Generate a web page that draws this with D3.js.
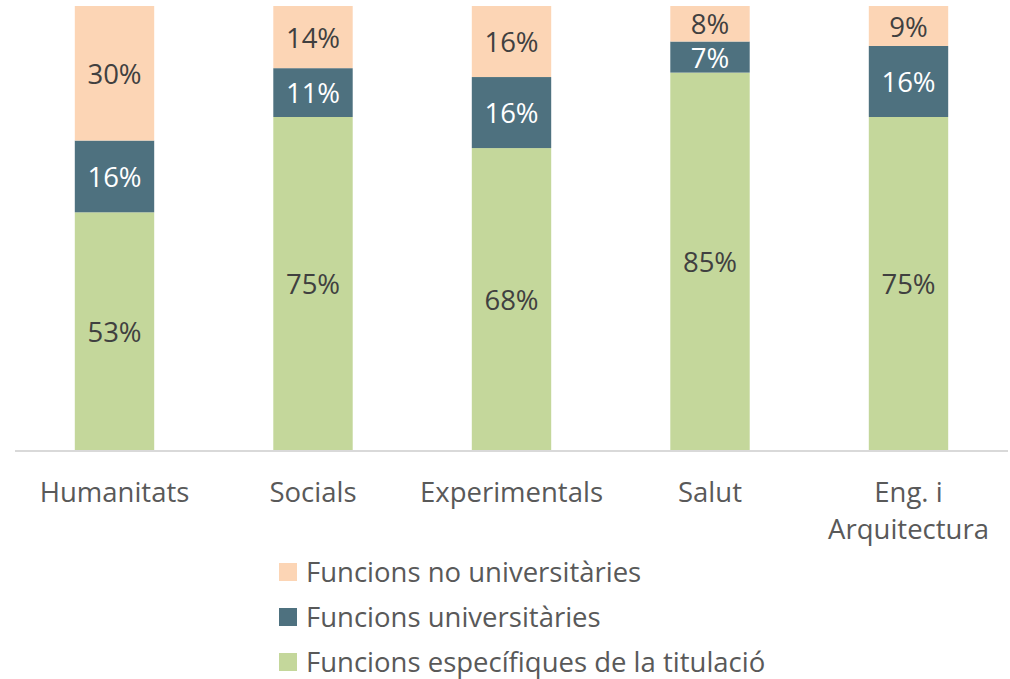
<!DOCTYPE html>
<html><head><meta charset="utf-8">
<script src="https://cdn.jsdelivr.net/npm/d3@7"></script>
<style>body{margin:0;background:#fff}svg{display:block;font-family:"Open Sans","Noto Sans",sans-serif}</style>
</head><body><svg id="c" width="1010" height="679"></svg>
<script>
const categories = ["Humanitats","Socials","Experimentals","Salut","Eng. i Arquitectura"];
const categoryLines = [["Humanitats"],["Socials"],["Experimentals"],["Salut"],["Eng. i","Arquitectura"]];
const especifiques = [53,75,68,85,75];
const universitaries = [16,11,16,7,16];
const noUniversitaries = [30,14,16,8,9];
const seriesNames = ["Funcions específiques de la titulació","Funcions universitàries","Funcions no universitàries"];
const seriesColors = ["#C4D79B","#4E717F","#FCD5B5"];
const labelColors = ["#404040","#ffffff","#404040"];

const rows = categories.map((c,i)=>({cat:c, s0:especifiques[i], s1:universitaries[i], s2:noUniversitaries[i]}));
const stack = d3.stack().keys(["s0","s1","s2"]).offset(d3.stackOffsetExpand);
const series = stack(rows);
const vals = [especifiques, universitaries, noUniversitaries];

const svg = d3.select("#c");
const x = d3.scaleBand().domain(categories).range([15.25,1007.75]).paddingInner(0.6).paddingOuter(0.3);
const y = d3.scaleLinear().domain([0,1]).range([450,6]);

const g = svg.append("g");
series.forEach((s,k)=>{
  const gs = g.append("g").attr("fill", seriesColors[k]);
  gs.selectAll("rect").data(s).join("rect")
    .attr("x", d=>x(d.data.cat)).attr("width", x.bandwidth())
    .attr("y", d=>y(d[1])).attr("height", d=>y(d[0])-y(d[1]));
  g.append("g").selectAll("text").data(s).join("text")
    .attr("x", d=>x(d.data.cat)+x.bandwidth()/2)
    .attr("y", d=>(y(d[0])+y(d[1]))/2 + 1)
    .attr("dy","0.35em").attr("text-anchor","middle")
    .attr("fill", labelColors[k]).attr("font-size", 27.5)
    .text((d,i)=>vals[k][i]+"%");
});

// axis
const ax = svg.append("g").attr("transform","translate(0,450)").call(d3.axisBottom(x).tickSize(0).tickFormat(""));
ax.select(".domain").attr("stroke","#d9d9d9").attr("stroke-width",2).attr("d","M15,1H1008");
categories.forEach((c,i)=>{
  const t = svg.append("text").attr("x", x(c)+x.bandwidth()/2).attr("y",502)
    .attr("text-anchor","middle").attr("fill","#595959").attr("font-size",27.5);
  categoryLines[i].forEach((l,j)=>t.append("tspan").attr("x", x(c)+x.bandwidth()/2).attr("dy", j?37:0).text(l));
});

// legend
const legendOrder = [2,1,0];
legendOrder.forEach((k,j)=>{
  const yy = 572 + j*45;
  svg.append("rect").attr("x",279).attr("y",yy-9).attr("width",18).attr("height",18).attr("fill",seriesColors[k]);
  svg.append("text").attr("x",306).attr("y",yy).attr("dy","0.35em").attr("fill","#595959").attr("font-size",27.5).text(seriesNames[k]);
});
</script></body></html>
